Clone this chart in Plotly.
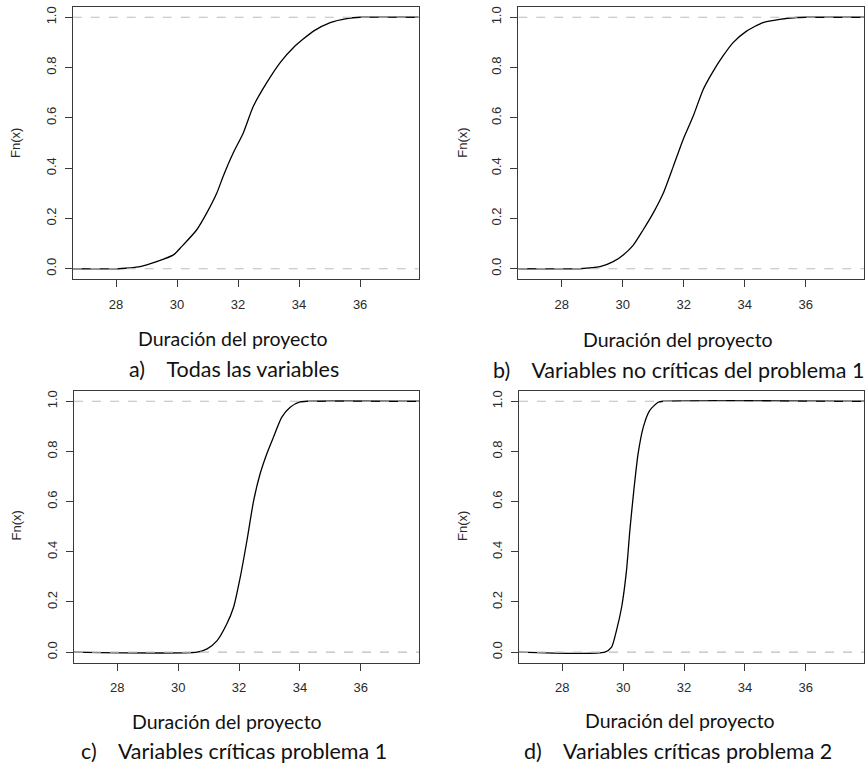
import plotly.graph_objects as go

a_x = [28.08, 28.79, 29.33, 29.88, 30.15, 30.64, 30.97, 31.30, 31.51, 31.84, 32.17, 32.50, 32.94, 33.38, 33.81, 34.47, 35.02, 35.56, 36.00]
a_f = [0.000, 0.008, 0.028, 0.055, 0.088, 0.154, 0.221, 0.300, 0.367, 0.460, 0.540, 0.646, 0.740, 0.820, 0.879, 0.945, 0.979, 0.995, 1.000]

b_x = [28.60, 29.26, 29.69, 30.02, 30.35, 30.67, 31.00, 31.33, 31.66, 31.98, 32.31, 32.64, 32.97, 33.29, 33.62, 34.06, 34.60, 35.15, 35.70, 36.02]
b_f = [0.000, 0.008, 0.028, 0.055, 0.094, 0.154, 0.221, 0.300, 0.407, 0.513, 0.606, 0.713, 0.786, 0.846, 0.899, 0.945, 0.979, 0.992, 0.999, 1.000]

c_x = [30.62, 30.95, 31.28, 31.60, 31.82, 32.04, 32.26, 32.48, 32.69, 32.91, 33.13, 33.40, 33.68, 34.00, 34.22]
c_f = [0.000, 0.013, 0.046, 0.113, 0.179, 0.299, 0.445, 0.604, 0.710, 0.790, 0.857, 0.936, 0.976, 0.997, 1.000]

d_x = [29.40, 29.62, 29.78, 29.95, 30.11, 30.22, 30.35, 30.49, 30.66, 30.87, 31.15, 31.31]
d_f = [0.000, 0.020, 0.086, 0.179, 0.325, 0.485, 0.644, 0.790, 0.896, 0.963, 0.996, 1.000]

x_ticks = [28, 30, 32, 34, 36]
y_ticks = [0.0, 0.2, 0.4, 0.6, 0.8, 1.0]
y_tick_labels = ["0.0", "0.2", "0.4", "0.6", "0.8", "1.0"]
x_range = [26.58, 37.92]
y_range = [-0.042, 1.042]

x_title = "Duración del proyecto"
y_title = "Fn(x)"
NB = "\u00a0"
captions = [
    "a)" + NB * 4 + "Todas las variables",
    "b)" + NB * 4 + "Variables no críticas del problema 1",
    "c)" + NB * 4 + "Variables críticas problema 1",
    "d)" + NB * 4 + "Variables críticas problema 2",
]
series = [(a_x, a_f), (b_x, b_f), (c_x, c_f), (d_x, d_f)]

# ---- layout geometry (pixels) ----
W, H = 867, 765
panels = [  # left, right, top, bottom
    (72.7, 418.7, 6.7, 279.3),
    (518.3, 864.3, 6.7, 279.3),
    (74.0, 419.3, 390.7, 662.7),
    (519.0, 864.3, 390.7, 662.7),
]
ytitle_pos = [(15, 143), (461.7, 143), (16.7, 525.7), (462.3, 525.7)]
xtitle_pos = [(233, 338), (678, 339), (227, 721), (680, 720)]
caption_pos = [(234, 369), (678, 370), (234, 751), (678, 751)]

fig = go.Figure()
axis_col = "#3a3a3a"
tick_font = dict(family="Liberation Sans, Arial, sans-serif", size=13, color="#2a2a2a")
title_font = dict(family="Lato, Carlito, sans-serif", size=19.5, color="#111111")
caption_font = dict(family="Lato, Carlito, sans-serif", size=21.5, color="#111111")

for i, ((xs, fs), (l, r, t, b)) in enumerate(zip(series, panels)):
    n = i + 1
    xa = "x" if n == 1 else f"x{n}"
    ya = "y" if n == 1 else f"y{n}"
    # ecdf curve extended to plot edges
    cx = [x_range[0]] + xs + [x_range[1]]
    cf = [0.0] + fs + [1.0]
    fig.add_trace(go.Scatter(x=cx, y=cf, mode="lines", xaxis=xa, yaxis=ya,
                             line=dict(color="black", width=1.3, shape="spline", smoothing=0.6),
                             showlegend=False, hoverinfo="skip"))
    for lev in (0.0, 1.0):
        fig.add_trace(go.Scatter(x=x_range, y=[lev, lev], mode="lines", xaxis=xa, yaxis=ya,
                                 line=dict(color="#bdbdbd", width=1.1, dash="dash"),
                                 showlegend=False, hoverinfo="skip"))
    xkey = "xaxis" if n == 1 else f"xaxis{n}"
    ykey = "yaxis" if n == 1 else f"yaxis{n}"
    fig.update_layout(**{
        xkey: dict(domain=[l / W, r / W], range=x_range, anchor=ya, tickvals=x_ticks,
                   ticktext=[str(v) for v in x_ticks], showgrid=False, zeroline=False,
                   showline=True, mirror=True, linecolor=axis_col, linewidth=1,
                   ticks="outside", ticklen=7, tickcolor=axis_col, tickwidth=1,
                   tickfont=tick_font, ticklabelstandoff=6),
        ykey: dict(domain=[1 - b / H, 1 - t / H], range=y_range, anchor=xa, tickvals=y_ticks,
                   ticktext=y_tick_labels, showgrid=False, zeroline=False,
                   showline=True, mirror=True, linecolor=axis_col, linewidth=1,
                   ticks="outside", ticklen=7, tickcolor=axis_col, tickwidth=1,
                   tickangle=-90, tickfont=tick_font, ticklabelstandoff=4),
    })
    yx, yy = ytitle_pos[i]
    fig.add_annotation(x=yx / W, y=1 - yy / H, xref="paper", yref="paper", text=y_title,
                       textangle=-90, showarrow=False, xanchor="center", yanchor="middle",
                       font=dict(family="Liberation Sans, Arial, sans-serif", size=13, color="#2a2a2a"))
    tx, ty = xtitle_pos[i]
    fig.add_annotation(x=tx / W, y=1 - ty / H, xref="paper", yref="paper", text=x_title,
                       showarrow=False, xanchor="center", yanchor="middle", font=title_font)
    cx_, cy_ = caption_pos[i]
    fig.add_annotation(x=cx_ / W, y=1 - cy_ / H, xref="paper", yref="paper", text=captions[i],
                       showarrow=False, xanchor="center", yanchor="middle", font=caption_font)

fig.update_layout(width=W, height=H, margin=dict(l=0, r=0, t=0, b=0),
                  paper_bgcolor="white", plot_bgcolor="white")
fig.write_html("out.html")
